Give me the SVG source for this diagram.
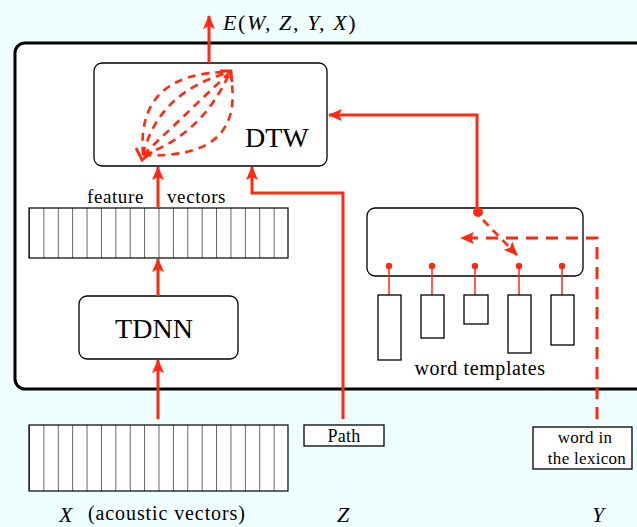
<svg xmlns="http://www.w3.org/2000/svg" width="637" height="527" viewBox="0 0 637 527">
  <style>
    .box { fill: #ffffff; stroke: #000000; stroke-width: 1.3; }
    .cell { fill: none; stroke: #000000; stroke-width: 1.2; }
    .wire { fill: none; stroke: #ff2a10; stroke-width: 3; }
    .thin { fill: none; stroke: #ff2a10; stroke-width: 1.5; }
    .dash { fill: none; stroke: #ff2a10; stroke-width: 3; stroke-dasharray: 12 8; }
    .curve { fill: none; stroke: #ff2a10; stroke-width: 2.6; stroke-dasharray: 8 6; }
    .dot { fill: #ff2a10; }
    .txt { font-family: "Liberation Serif", "DejaVu Serif", serif; fill: #000000; }
    .math { font-family: "Liberation Serif", "DejaVu Serif", serif; font-style: italic; fill: #000000; }
  </style>
  <defs>
    <marker id="head" viewBox="0 0 14 12" refX="13" refY="6" markerWidth="14" markerHeight="12" markerUnits="userSpaceOnUse" orient="auto">
      <path d="M0,0 L14,6 L0,12 L3,6 Z" fill="#ff2a10"/>
    </marker>
    <pattern id="cells" x="29" y="0" width="14.39" height="10" patternUnits="userSpaceOnUse">
      <line x1="0" y1="0" x2="0" y2="10" stroke="#000000" stroke-width="1.2"/>
    </pattern>
  </defs>

  <!-- page background and the system frame -->
  <rect x="0" y="0" width="637" height="527" fill="#effefe"/>
  <rect x="15" y="43" width="640" height="346" rx="10" fill="#ffffff" stroke="#000000" stroke-width="3"/>

  <!-- output label -->
  <text class="math" x="223" y="30" font-size="22" letter-spacing="1.6"><tspan>E</tspan><tspan font-style="normal">(</tspan><tspan>W, Z, Y, X</tspan><tspan font-style="normal">)</tspan></text>

  <g id="dtw">
    <rect class="box" x="94" y="63" width="233" height="103" rx="8"/>
    <text class="txt" x="245" y="147" font-size="28">DTW</text>
    <!-- warping paths -->
    <path class="curve" d="M143,155 Q136,72 230,72"/>
    <path class="curve" d="M143,155 Q158,92 230,72"/>
    <path class="curve" d="M143,155 L230,72"/>
    <path class="curve" d="M143,155 Q202,135 230,72"/>
    <path class="curve" d="M143,155 Q248,160 230,72"/>
    <path d="M136,148 L142,160 L152,152" fill="none" stroke="#ff2a10" stroke-width="2.8"/>
    <path d="M220,71 L231,71 L232,82" fill="none" stroke="#ff2a10" stroke-width="2.8"/>
  </g>

  <g id="feature-vectors">
    <text class="txt" x="87" y="203" font-size="19" letter-spacing="0.6">feature</text>
    <text class="txt" x="167" y="203" font-size="19" letter-spacing="0.6">vectors</text>
    <rect x="29" y="208" width="259" height="50" fill="#ffffff"/>
    <rect x="29" y="208" width="259" height="50" fill="url(#cells)"/>
    <rect class="cell" x="29" y="208" width="259" height="50"/>
  </g>

  <g id="tdnn">
    <rect class="box" x="79" y="296" width="159" height="63" rx="8"/>
    <text class="txt" x="154" y="338" font-size="28" text-anchor="middle">TDNN</text>
  </g>

  <g id="word-templates">
    <rect class="box" x="367" y="208" width="216" height="68" rx="8"/>
    <line class="thin" x1="389" y1="266" x2="389" y2="295"/>
    <line class="thin" x1="432" y1="266" x2="432" y2="295"/>
    <line class="thin" x1="475" y1="266" x2="475" y2="295"/>
    <line class="thin" x1="519" y1="266" x2="519" y2="295"/>
    <line class="thin" x1="562" y1="266" x2="562" y2="295"/>
    <circle class="dot" cx="389" cy="266" r="3.2"/>
    <circle class="dot" cx="432" cy="266" r="3.2"/>
    <circle class="dot" cx="475" cy="266" r="3.2"/>
    <circle class="dot" cx="519" cy="266" r="3.2"/>
    <circle class="dot" cx="562" cy="266" r="3.2"/>
    <rect class="box" x="378" y="295" width="23" height="65"/>
    <rect class="box" x="421" y="295" width="23" height="43"/>
    <rect class="box" x="464" y="295" width="24" height="29"/>
    <rect class="box" x="508" y="295" width="23" height="58"/>
    <rect class="box" x="551" y="295" width="23" height="50"/>
    <text class="txt" x="480" y="375" font-size="20" letter-spacing="0.6" text-anchor="middle">word templates</text>
  </g>

  <g id="acoustic-vectors">
    <rect x="29" y="425" width="259" height="66" fill="#ffffff"/>
    <rect x="29" y="425" width="259" height="66" fill="url(#cells)"/>
    <rect class="cell" x="29" y="425" width="259" height="66"/>
    <text class="math" x="59" y="522" font-size="22">X</text>
    <text class="txt" x="88" y="520" font-size="20" letter-spacing="0.9">(acoustic vectors)</text>
  </g>

  <g id="path-input">
    <rect class="box" x="304" y="425" width="80" height="21"/>
    <text class="txt" x="344" y="442" font-size="18" letter-spacing="0.3" text-anchor="middle">Path</text>
    <text class="math" x="343" y="522" font-size="22" text-anchor="middle">Z</text>
  </g>

  <g id="lexicon-word">
    <rect class="box" x="533" y="427" width="99" height="42"/>
    <text class="txt" x="585" y="443" font-size="17" letter-spacing="0.3" text-anchor="middle">word in</text>
    <text class="txt" x="587" y="464" font-size="17" letter-spacing="0.3" text-anchor="middle">the lexicon</text>
    <text class="math" x="598" y="522" font-size="22" text-anchor="middle">Y</text>
  </g>

  <g id="connectors">
    <!-- DTW score out -->
    <line class="wire" x1="209" y1="63" x2="209" y2="16" marker-end="url(#head)"/>
    <!-- acoustic vectors into TDNN -->
    <line class="wire" x1="158" y1="419" x2="158" y2="360" marker-end="url(#head)"/>
    <!-- TDNN into feature vectors -->
    <line class="wire" x1="158" y1="296" x2="158" y2="259" marker-end="url(#head)"/>
    <!-- feature vectors into DTW -->
    <line class="wire" x1="158" y1="208" x2="158" y2="167" marker-end="url(#head)"/>
    <!-- path into DTW -->
    <path class="wire" d="M343,419 L343,193 L252,193 L252,167" marker-end="url(#head)"/>
    <!-- selected template into DTW -->
    <path class="wire" d="M477,212 L477,115 L329,115" marker-end="url(#head)"/>
    <circle class="dot" cx="478" cy="212" r="5"/>
    <!-- lexicon word selects a template -->
    <path class="dash" d="M597,419 L597,238 L461,238" marker-end="url(#head)"/>
    <path class="curve" d="M483,220 L517,255" marker-end="url(#head)"/>
  </g>
</svg>
